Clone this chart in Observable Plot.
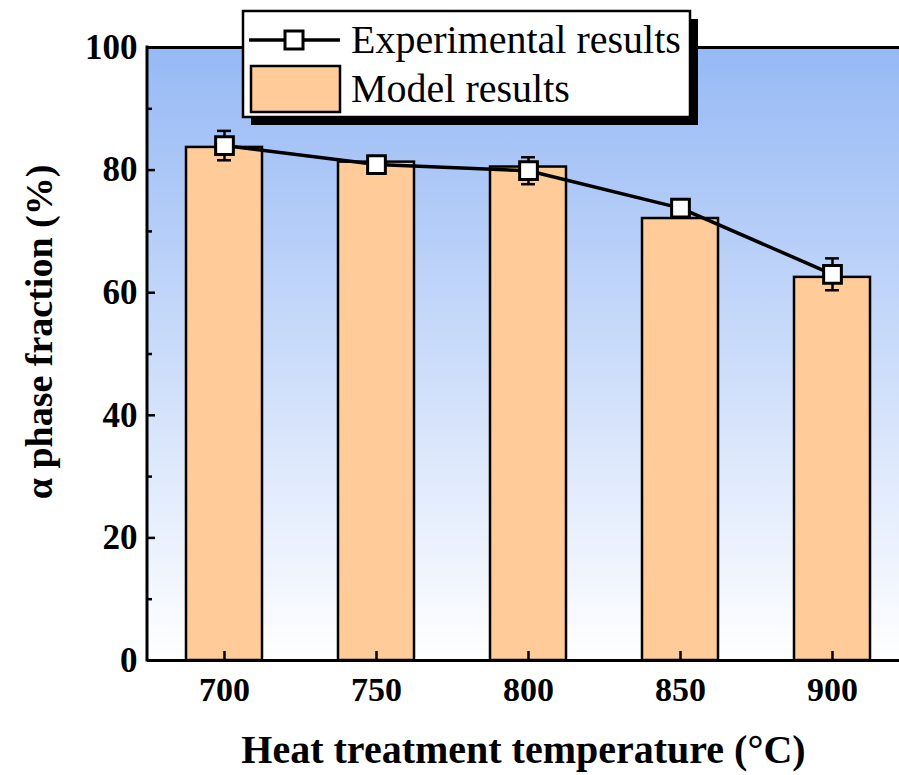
<!DOCTYPE html>
<html><head><meta charset="utf-8">
<script src="https://cdn.jsdelivr.net/npm/d3@7"></script>
<script src="https://cdn.jsdelivr.net/npm/@observablehq/plot@0.6"></script>
<style>body{margin:0;background:#fff;overflow:hidden;}</style>
</head><body><div id="chart"></div>
<script>
const temps = ["700", "750", "800", "850", "900"];
const modelValues = [83.7, 81.3, 80.5, 72.1, 62.5];
const expValues = [84.0, 80.9, 79.9, 73.8, 63.0];
const expErrors = [2.4, 1.0, 2.2, 1.0, 2.6];
const yMajorTicks = [0, 20, 40, 60, 80, 100];
const yMinorTicks = [10, 30, 50, 70, 90];
const xTitle = "Heat treatment temperature (°C)";
const yTitle = "α phase fraction (%)";
const legendLabels = ["Experimental results", "Model results"];

const data = temps.map((t, i) => ({temp: t, model: modelValues[i], exp: expValues[i], err: expErrors[i]}));

const W = 899, H = 775, ML = 147, MT = 47, MB = 115;
const barFill = "#FFCC99";
const serif = "'Liberation Serif', 'Times New Roman', serif";

function background(index, scales, values, dims) {
  const g = d3.create("svg:g");
  const defs = g.append("defs");
  const lg = defs.append("linearGradient").attr("id", "bgGrad").attr("x1", 0).attr("y1", 0).attr("x2", 0).attr("y2", 1);
  lg.append("stop").attr("offset", "0%").attr("stop-color", "#96b9f5");
  lg.append("stop").attr("offset", "100%").attr("stop-color", "#ffffff");
  const y0 = scales.y(100), y1 = scales.y(0);
  g.append("rect").attr("x", dims.marginLeft).attr("y", y0)
    .attr("width", dims.width - dims.marginLeft).attr("height", y1 - y0)
    .attr("fill", "url(#bgGrad)");
  return g.node();
}

function leftLine(index, scales, values, dims) {
  const g = d3.create("svg:g");
  g.append("line").attr("x1", dims.marginLeft).attr("x2", dims.marginLeft)
    .attr("y1", scales.y(100) - 1.5).attr("y2", scales.y(0) + 1.5)
    .attr("stroke", "black").attr("stroke-width", 3);
  return g.node();
}

function legend(index, scales, values, dims) {
  const g = d3.create("svg:g");
  const bx = 243, by = 11, bw = 447, bh = 106;
  g.append("rect").attr("x", bx + 8).attr("y", by + 8).attr("width", bw).attr("height", bh).attr("fill", "black");
  g.append("rect").attr("x", bx).attr("y", by).attr("width", bw).attr("height", bh)
    .attr("fill", "white").attr("stroke", "black").attr("stroke-width", 2.5);
  // row 1: line + square
  g.append("line").attr("x1", bx + 6).attr("x2", bx + 97).attr("y1", 40).attr("y2", 40)
    .attr("stroke", "black").attr("stroke-width", 3.5);
  g.append("rect").attr("x", bx + 51 - 9).attr("y", 40 - 9).attr("width", 18).attr("height", 18)
    .attr("fill", "white").attr("stroke", "black").attr("stroke-width", 3);
  g.append("text").attr("x", bx + 108).attr("y", 40).attr("dy", "0.33em").attr("text-anchor", "start")
    .attr("font-family", serif).attr("font-size", 40).attr("fill", "black").text(legendLabels[0]);
  // row 2: swatch
  g.append("rect").attr("x", bx + 8).attr("y", 66).attr("width", 89).attr("height", 46)
    .attr("fill", barFill).attr("stroke", "black").attr("stroke-width", 2.5);
  g.append("text").attr("x", bx + 108).attr("y", 89).attr("dy", "0.33em").attr("text-anchor", "start")
    .attr("font-family", serif).attr("font-size", 40).attr("fill", "black").text(legendLabels[1]);
  return g.node();
}

const chart = Plot.plot({
  width: W, height: H,
  marginLeft: ML, marginRight: 0, marginTop: MT, marginBottom: MB,
  style: {background: "white", fontFamily: serif, color: "black", overflow: "hidden"},
  x: {domain: temps, range: [ML, 908], paddingInner: 0.5, paddingOuter: 0.25, label: null, axis: null},
  y: {domain: [0, 100], label: null, axis: null},
  marks: [
    background,
    Plot.barY(data, {x: "temp", y: "model", fill: barFill, stroke: "black", strokeWidth: 2.5}),
    Plot.line(data, {x: "temp", y: "exp", stroke: "black", strokeWidth: 3.5}),
    Plot.ruleX(data, {x: "temp", y1: d => d.exp - d.err, y2: d => d.exp + d.err, stroke: "black", strokeWidth: 2.5}),
    Plot.tickY(data, {x: "temp", y: d => d.exp - d.err, stroke: "black", strokeWidth: 2.5, insetLeft: 31, insetRight: 31}),
    Plot.tickY(data, {x: "temp", y: d => d.exp + d.err, stroke: "black", strokeWidth: 2.5, insetLeft: 31, insetRight: 31}),
    Plot.dot(data, {x: "temp", y: "exp", symbol: "square", r: 10, fill: "white", stroke: "black", strokeWidth: 3}),
    Plot.ruleY([0, 100], {stroke: "black", strokeWidth: 3}),
    leftLine,
    Plot.axisY(yMajorTicks, {tickSize: 8, dx: 8, text: null, strokeWidth: 2.5, label: null}),
    Plot.axisY(yMinorTicks, {tickSize: 5, dx: 5, text: null, strokeWidth: 2.5, label: null}),
    Plot.axisY(yMajorTicks, {tickSize: 0, tickPadding: 10, fontSize: 35, fontWeight: "bold", label: null}),
    Plot.axisX(temps, {tickSize: 9, dy: -9, text: null, strokeWidth: 2.5, label: null}),
    Plot.axisX(temps, {tickSize: 0, tickPadding: 16, fontSize: 34, fontWeight: "bold", label: null}),
    Plot.text([xTitle], {frameAnchor: "bottom", dy: 90, fontSize: 40, fontWeight: "bold", fill: "black", textAnchor: "middle", lineAnchor: "middle"}),
    Plot.text([yTitle], {frameAnchor: "left", dx: -108, dy: -22, rotate: -90, fontSize: 38, fontWeight: "bold", fill: "black", textAnchor: "middle", lineAnchor: "middle"}),
    legend
  ]
});
document.getElementById("chart").appendChild(chart);
</script>
</body></html>
